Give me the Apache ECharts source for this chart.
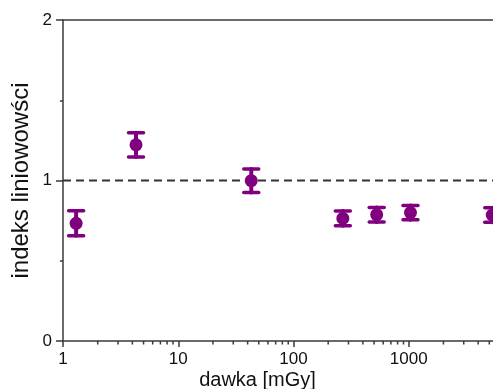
<!DOCTYPE html>
<html>
<head>
<meta charset="utf-8">
<script src="https://cdn.jsdelivr.net/npm/echarts@6/dist/echarts.min.js"></script>
<style>
html,body{margin:0;padding:0;background:#fff;}
#c{width:493px;height:389px;}
</style>
</head>
<body>
<div id="c"></div>
<script>
// Data
const doses = [1.3, 4.3, 43, 268, 527, 1035, 5300];
const values = [0.733, 1.222, 0.999, 0.764, 0.787, 0.800, 0.785];
const errors = [0.078, 0.075, 0.073, 0.046, 0.045, 0.044, 0.045];
const minorTickValues = [2,3,4,5,6,7,8,9,20,30,40,50,60,70,80,90,200,300,400,500,600,700,800,900,2000,3000,4000,5000,6000,7000,8000,9000];
const refLine = 1;

const purple = '#800080';
const axisColor = '#3a3a3a';
const font = '"Liberation Sans", Arial, sans-serif';

const pointData = doses.map((d, i) => [d, values[i]]);
const errData = doses.map((d, i) => [d, values[i], errors[i]]);

const chart = echarts.init(document.getElementById('c'), null, {renderer: 'canvas'});
chart.setOption({
  animation: false,
  backgroundColor: '#fff',
  grid: {left: 63, top: 20, width: 461, height: 321, containLabel: false, outerBoundsMode: 'none'},
  xAxis: [{
    type: 'log', logBase: 10, min: 1, max: 10000,
    position: 'bottom',
    name: 'dawka [mGy]', nameLocation: 'middle', nameGap: 29, nameMoveOverlap: false,
    nameTextStyle: {fontSize: 20, fontFamily: font, color: '#111', padding: [0, 72, 0, 0], verticalAlign: 'top', lineHeight: 20},
    axisLine: {show: true, lineStyle: {color: axisColor, width: 1.5}},
    axisTick: {show: true, inside: false, length: 6, lineStyle: {color: axisColor, width: 1.5}},
    axisLabel: {fontSize: 17, fontFamily: font, color: '#111', margin: 10,
      formatter: v => String(Math.round(v))},
    splitLine: {show: false}
  }, {
    type: 'log', logBase: 10, min: 1, max: 10000,
    position: 'top',
    axisLine: {show: true, lineStyle: {color: axisColor, width: 1.5}},
    axisTick: {show: false}, axisLabel: {show: false}, splitLine: {show: false}
  }],
  yAxis: {
    type: 'value', min: 0, max: 2, interval: 1,
    name: 'indeks liniowowści', nameLocation: 'middle', nameGap: 30, nameMoveOverlap: false,
    nameTextStyle: {fontSize: 24, fontFamily: font, color: '#111'},
    axisLine: {show: true, lineStyle: {color: axisColor, width: 1.5}},
    axisTick: {show: true, inside: false, length: 7, lineStyle: {color: axisColor, width: 1.5}},
    minorTick: {show: true, splitNumber: 2, length: 3, lineStyle: {color: axisColor, width: 1.5}},
    axisLabel: {fontSize: 17, fontFamily: font, color: '#111', margin: 11},
    splitLine: {show: false}
  },
  series: [
    {
      type: 'custom',
      name: 'minorTicks',
      xAxisIndex: 0,
      silent: true,
      clip: false,
      data: minorTickValues.map(v => [v, 0]),
      renderItem: function (params, api) {
        const p = api.coord([api.value(0), 0]);
        return {type: 'line', shape: {x1: p[0], y1: p[1], x2: p[0], y2: p[1] + 3.5},
          style: {stroke: axisColor, lineWidth: 1.5}};
      }
    },
    {
      type: 'line',
      data: [[1, refLine], [10000, refLine]],
      symbol: 'none',
      lineStyle: {color: '#333', width: 2, type: [8, 5]},
      silent: true,
      z: 1
    },
    {
      type: 'custom',
      name: 'errors',
      xAxisIndex: 0,
      data: errData,
      z: 3,
      renderItem: function (params, api) {
        const x = api.value(0), y = api.value(1), e = api.value(2);
        const t = api.coord([x, y + e]);
        const b = api.coord([x, y - e]);
        const hw = 7.5;
        const st = {stroke: purple, lineWidth: 4, lineCap: 'round'};
        const sc = {stroke: purple, lineWidth: 3.5, lineCap: 'round'};
        return {type: 'group', children: [
          {type: 'line', shape: {x1: t[0], y1: t[1], x2: b[0], y2: b[1]}, style: st},
          {type: 'line', shape: {x1: t[0] - hw, y1: t[1], x2: t[0] + hw, y2: t[1]}, style: sc},
          {type: 'line', shape: {x1: b[0] - hw, y1: b[1], x2: b[0] + hw, y2: b[1]}, style: sc}
        ]};
      }
    },
    {
      type: 'scatter',
      data: pointData,
      symbol: 'circle',
      symbolSize: 13,
      itemStyle: {color: purple, opacity: 1},
      z: 4
    }
  ]
});
</script>
</body>
</html>
